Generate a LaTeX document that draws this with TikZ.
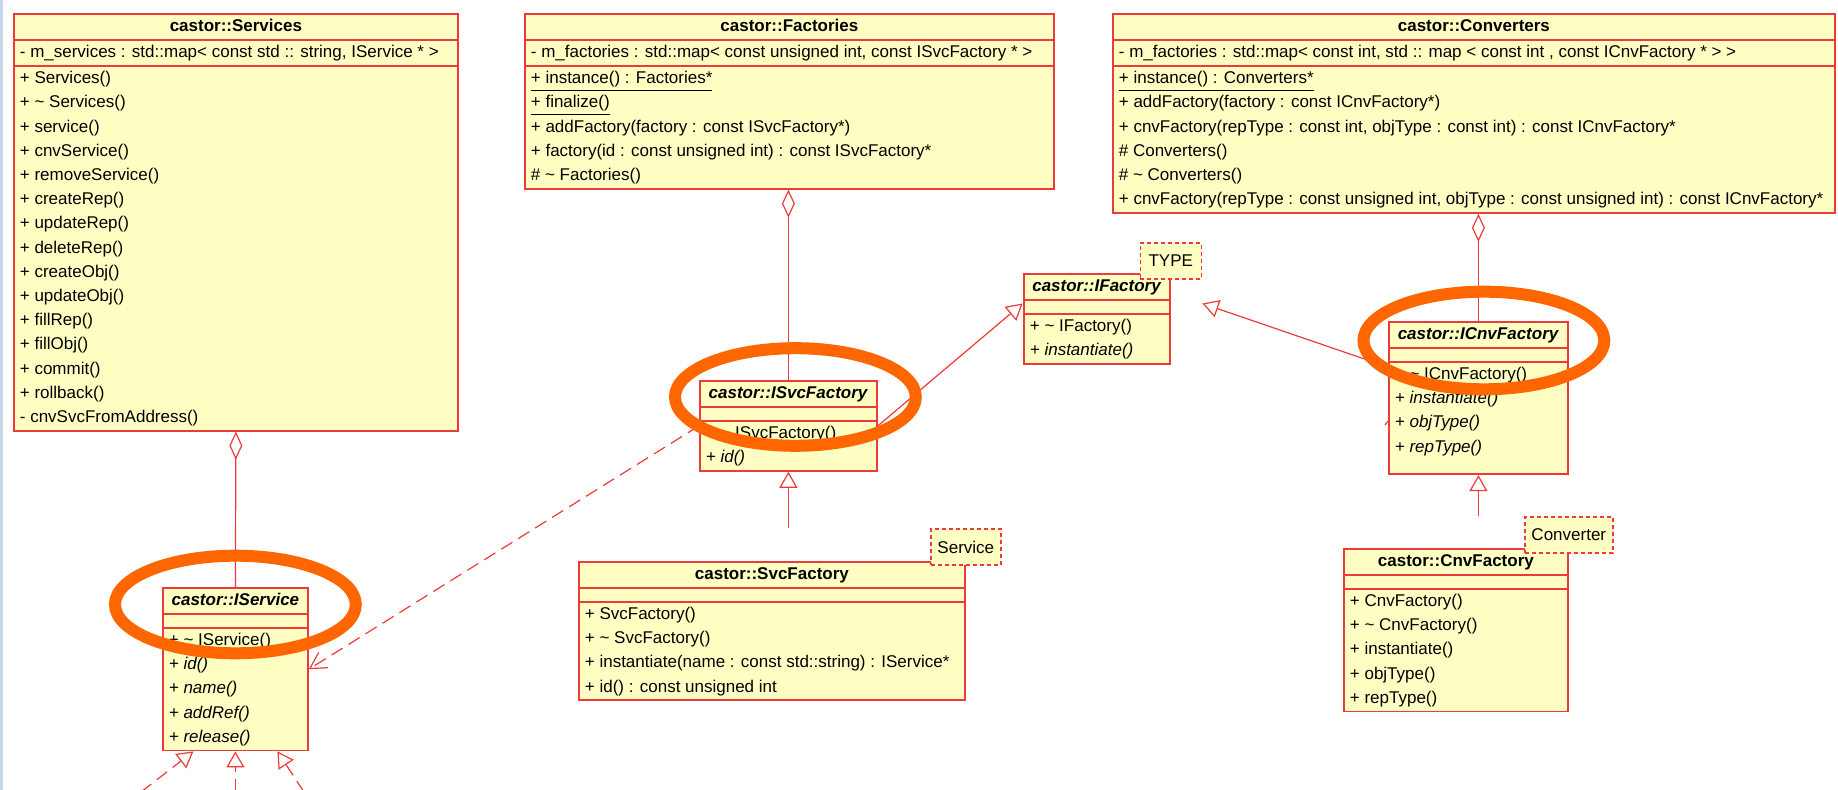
\documentclass[tikz,border=0pt]{standalone}
\usepackage{fontspec}
\setmainfont{Liberation Sans}
\usetikzlibrary{shapes.multipart,arrows.meta,fit}
\definecolor{umlred}{RGB}{238,58,58}
\definecolor{umlfill}{RGB}{255,255,196}
\definecolor{ringorange}{RGB}{255,102,0}
\definecolor{edgeblue}{RGB}{198,213,235}
\newcommand{\dtor}{\textasciitilde}
\newcommand{\cname}[1]{\hfill\textbf{#1}\strut\hfill\null}
\newcommand{\iname}[1]{\hfill\textbf{\textit{#1}}\strut\hfill\null}
\newcommand{\noattr}{\rule{0pt}{6pt}}
\begin{document}
\fontsize{8.5}{12.1}\selectfont
\begin{tikzpicture}[x=.5pt, y=-.5pt, font=\fontsize{8.5}{12.1}\selectfont,
  umlclass/.style={rectangle split, rectangle split parts=3, draw=umlred, fill=umlfill, line width=.9pt,
    anchor=north west, inner xsep=3pt, inner ysep=0pt, align=flush left, text width=#1},
  tmpl/.style={draw=umlred, fill=umlfill, line width=.8pt, dash pattern=on 2pt off 1.5pt,
    inner xsep=3.3pt, inner ysep=0pt, minimum height=18pt, minimum width=30.5pt},
  assoc/.style={draw=umlred, line width=.6pt},
  aggr/.style={assoc, -{Diamond[open, length=14pt, width=6.5pt]}},
  gen/.style={assoc, -{Triangle[open, length=8pt, width=9pt]}},
  real/.style={gen, dash pattern=on 6.5pt off 3.5pt},
  dep/.style={assoc, dash pattern=on 6.5pt off 3.5pt, -{Straight Barb[length=8pt, width=9pt]}},
  ring/.style={draw=ringorange, line width=6pt}]
\useasboundingbox (0,0) rectangle (1838,790);
\fill[white] (0,0) rectangle (1838,790);
\fill[edgeblue] (0,0) rectangle (3,790);

\node[umlclass=216pt] (services) at (13,13) {\cname{castor::Services}
  \nodepart{two}\strut- m\_services : std::map< const std :: string, IService * >
  \nodepart{three}\strut+ Services()\\+ \dtor{} Services()\\+ service()\\+ cnvService()\\+ removeService()\\
  + createRep()\\+ updateRep()\\+ deleteRep()\\+ createObj()\\+ updateObj()\\+ fillRep()\\+ fillObj()\\
  + commit()\\+ rollback()\\- cnvSvcFromAddress()\strut};
\node[umlclass=258.5pt] (factories) at (524,13) {\cname{castor::Factories}
  \nodepart{two}\strut- m\_factories : std::map< const unsigned int, const ISvcFactory * >
  \nodepart{three}\strut\underline{+ instance() : Factories*}\\\underline{+ finalize()}\\
  + addFactory(factory : const ISvcFactory*)\\+ factory(id : const unsigned int) : const ISvcFactory*\\
  \# \dtor{} Factories()\strut};
\node[umlclass=355pt] (converters) at (1112,13) {\cname{castor::Converters}
  \nodepart{two}\strut- m\_factories : std::map< const int, std :: map < const int , const ICnvFactory * > >
  \nodepart{three}\strut\underline{+ instance() : Converters*}\\+ addFactory(factory : const ICnvFactory*)\\
  + cnvFactory(repType : const int, objType : const int) : const ICnvFactory*\\\# Converters()\\
  \# \dtor{} Converters()\\
  + cnvFactory(repType : const unsigned int, objType : const unsigned int) : const ICnvFactory*\strut};

\node[umlclass=66.5pt] (iservice) at (162,587) {\iname{castor::IService}
  \nodepart{two}\noattr
  \nodepart{three}\strut+ \dtor{} IService()\\\textit{+ id()}\\\textit{+ name()}\\\textit{+ addRef()}\\
  \textit{+ release()}\strut};
\node[umlclass=82.5pt] (isvcfactory) at (699,380) {\iname{castor::ISvcFactory}
  \nodepart{two}\noattr
  \nodepart{three}\strut+ \dtor{} ISvcFactory()\\\textit{+ id()}\strut};
\node[umlclass=67pt] (ifactory) at (1023,273) {\iname{castor::IFactory}
  \nodepart{two}\noattr
  \nodepart{three}\strut+ \dtor{} IFactory()\\\textit{+ instantiate()}\strut};
\node[umlclass=83.5pt] (icnvfactory) at (1388,321) {\iname{castor::ICnvFactory}
  \nodepart{two}\noattr
  \nodepart{three}\strut+ \dtor{} ICnvFactory()\\\textit{+ instantiate()}\\\textit{+ objType()}\\
  \textit{+ repType()}\rule[-10.6pt]{0pt}{10.6pt}};
\node[umlclass=187pt] (svcfactory) at (578,561) {\cname{castor::SvcFactory}
  \nodepart{two}\noattr
  \nodepart{three}\strut+ SvcFactory()\\+ \dtor{} SvcFactory()\\
  + instantiate(name : const std::string) : IService*\\+ id() : const unsigned int\strut};
\node[umlclass=106pt] (cnvfactory) at (1343,548) {\cname{castor::CnvFactory}
  \nodepart{two}\noattr
  \nodepart{three}\strut+ CnvFactory()\\+ \dtor{} CnvFactory()\\+ instantiate()\\+ objType()\\+ repType()\strut};

\node[tmpl] (type-tmpl) at ([yshift=6pt]ifactory.north east) {TYPE};
\node[tmpl] (svc-tmpl) at ([yshift=7pt]svcfactory.north east) {Service};
\node[tmpl] (cnv-tmpl) at ([yshift=6.5pt]cnvfactory.north east) {Converter};
\node[fit=(ifactory)(type-tmpl), inner sep=0pt] (ifac-grp) {};

\draw[aggr] (iservice.north) -- (services.south);
\draw[aggr] (isvcfactory.north) -- (isvcfactory.north |- factories.south);
\draw[aggr] (icnvfactory.north) -- (icnvfactory.north |- converters.south);
\draw[gen] (isvcfactory.south |- svc-tmpl.north) -- (isvcfactory.south);
\draw[gen] (icnvfactory.south |- cnv-tmpl.north) -- (icnvfactory.south);
\draw[gen] (isvcfactory.east) -- (ifac-grp.west);
\draw[gen] (icnvfactory) -- (ifac-grp.east);
\draw[dep] (isvcfactory.west) -- (iservice.east);
\draw[assoc] (icnvfactory.west |- 0,421) -- ++(-3,4);

\coordinate (real-l) at (141,792);
\coordinate (real-m) at (iservice.south |- 0,792);
\coordinate (real-r) at (304,792);
\draw[real] (real-l) -- ([xshift=-21pt]iservice.south);
\draw[real] (real-m) -- (iservice.south);
\draw[real] (real-r) -- ([xshift=21pt]iservice.south);

\draw[ring] ([yshift=-8.75pt]iservice.north) ellipse [x radius=60.2pt, y radius=24.4pt];
\draw[ring] ([xshift=3.5pt, yshift=-8.5pt]isvcfactory.north) ellipse [x radius=60.2pt, y radius=24.4pt];
\draw[ring] ([xshift=2.75pt, yshift=-9.75pt]icnvfactory.north) ellipse [x radius=60.2pt, y radius=24.4pt];
\end{tikzpicture}
\end{document}
